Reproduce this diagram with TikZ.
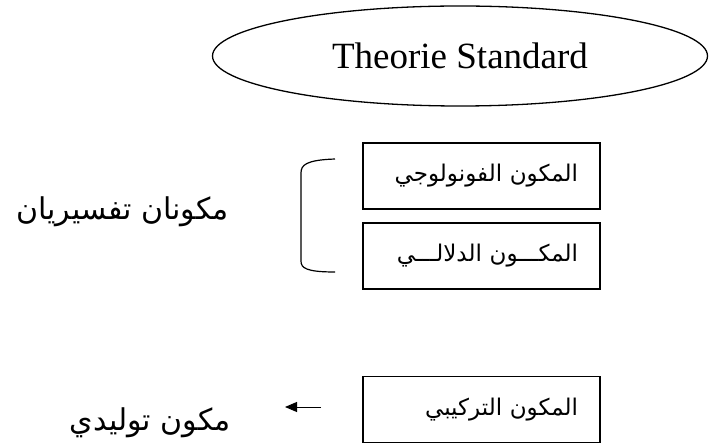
\documentclass[tikz,border=0pt]{standalone}
\usepackage{fontspec}
\usepackage{tikz}
\usetikzlibrary{arrows.meta,shapes.geometric}
\setmainfont{Liberation Serif}
\newfontfamily\arabicfont[Script=Arabic]{DejaVu Sans}
\TeXXeTstate=1

\begin{document}
\begin{tikzpicture}[x=1pt,y=1pt,
    comp/.style={draw,line width=1.2pt,minimum height=66pt,text width=193pt,
      inner xsep=22pt,align=right,font=\arabicfont\fontsize{23}{26}\selectfont},
    kind/.style={anchor=east,inner sep=0pt,font=\arabicfont\fontsize{30}{34}\selectfont}]
    \useasboundingbox (0,0) rectangle (711,-446);
    \node[draw,ellipse,line width=1.3pt,minimum width=495pt,minimum height=100pt,
      font=\fontsize{37}{40}\selectfont] (theory) at (460,-56) {Theorie Standard};
    \node[comp] (phon) at (481.5,-176) {\beginR المكون الفونولوجي\endR};
    \node[comp] (sem) at (481.5,-256) {\beginR المكـــون الدلالـــي\endR};
    \node[comp] (syn) at (481.5,-409.5) {\beginR المكون التركيبي\endR};
    \node[kind] (interp) at (229,-212) {\beginR مكونان تفسيريان\endR};
    \node[kind] (gener) at (231,-423) {\beginR مكون توليدي\endR};
    \draw[line width=1.2pt] (335,-159) .. controls (306,-160) and (301,-165) .. (301,-173)
      -- (301,-261) .. controls (301,-268) and (306,-272) .. (335,-272);
    \coordinate (arrS) at (321,-407);
    \coordinate (arrE) at (285,-407);
    \draw[-{Triangle[length=12pt,width=10pt]},line width=0.9pt] (arrS) -- (arrE);
\end{tikzpicture}
\end{document}
